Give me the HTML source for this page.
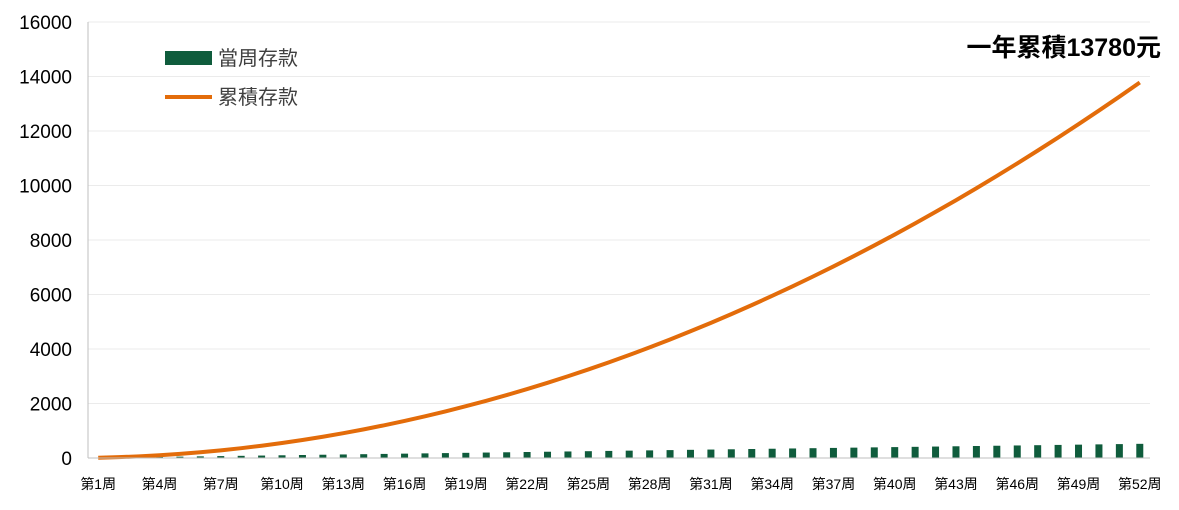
<!DOCTYPE html>
<html><head><meta charset="utf-8">
<style>
html,body{margin:0;padding:0;background:#fff;}
svg{display:block;font-family:"Liberation Sans","Noto Sans CJK TC",sans-serif;}
</style></head>
<body>
<svg id="chart" width="1179" height="510">
  <g id="grid"></g>
  <g id="yticks"></g>
  <g id="bars"></g>
  <path id="line" fill="none" stroke="#e36c0a" stroke-width="4" stroke-linejoin="round"></path>
  <line x1="88" y1="458" x2="1150" y2="458" stroke="#bfbfbf" stroke-width="1"/>
  <line x1="88" y1="22" x2="88" y2="458" stroke="#bfbfbf" stroke-width="1"/>
  <g id="xticks"></g>
  <g>
    <g>
      <rect x="165" y="51" width="47" height="14" fill="#0f5c3c"/>
      <text x="218" y="65" font-size="20" fill="#404040">當周存款</text>
    </g>
    <g>
      <line x1="165" y1="97" x2="212" y2="97" stroke="#e36c0a" stroke-width="4"/>
      <text x="218" y="104" font-size="20" fill="#404040">累積存款</text>
    </g>
  </g>
  <text x="1161" y="56" text-anchor="end" font-size="25" font-weight="bold" fill="#000">一年累積13780元</text>
</svg>
<script>
const weeks = [];
for (let i = 1; i <= 52; i++) weeks.push('第' + i + '周');
const deposits = [10,20,30,40,50,60,70,80,90,100,110,120,130,140,150,160,170,180,190,200,210,220,230,240,250,260,270,280,290,300,310,320,330,340,350,360,370,380,390,400,410,420,430,440,450,460,470,480,490,500,510,520];
const yTicks = [0,2000,4000,6000,8000,10000,12000,14000,16000];

const NS = 'http://www.w3.org/2000/svg';
const x0 = 88, x1 = 1150, yBase = 458, yTop = 22, yMax = 16000;
const band = (x1 - x0) / weeks.length;
const xPos = i => x0 + band * (i + 0.5);
const yPos = v => yBase - (v / yMax) * (yBase - yTop);

function mk(tag, attrs) {
  const e = document.createElementNS(NS, tag);
  for (const k in attrs) e.setAttribute(k, attrs[k]);
  return e;
}

const grid = document.getElementById('grid'), yt = document.getElementById('yticks');
yTicks.forEach(v => {
  if (v > 0) {
    const l = mk('line', {x1: x0, x2: x1, y1: yPos(v), y2: yPos(v), stroke: '#ebebeb', 'stroke-width': 1});
    
    
    grid.appendChild(l);
  }
  const t = mk('text', {x: 72, y: yPos(v) + 7, 'text-anchor': 'end', 'font-size': 19, fill: '#000'});
  t.textContent = v;
  
  
  yt.appendChild(t);
});

const bars = document.getElementById('bars');
const bw = 7;
deposits.forEach((v, i) => {
  const r = mk('rect', {x: xPos(i) - bw / 2, y: yPos(v), width: bw, height: yBase - yPos(v), fill: '#0f5c3c'});
  
  
  bars.appendChild(r);
});

let cum = 0, d = '';
deposits.forEach((v, i) => {
  cum += v;
  d += (i ? 'L' : 'M') + xPos(i).toFixed(2) + ',' + yPos(cum).toFixed(2);
});
document.getElementById('line').setAttribute('d', d);

const xt = document.getElementById('xticks');
weeks.forEach((w, i) => {
  if (i % 3 !== 0) return;
  const t = mk('text', {x: xPos(i), y: 489, 'text-anchor': 'middle', 'font-size': 14, fill: '#000'});
  t.textContent = w;
  
  
  xt.appendChild(t);
});
</script>
</body></html>
